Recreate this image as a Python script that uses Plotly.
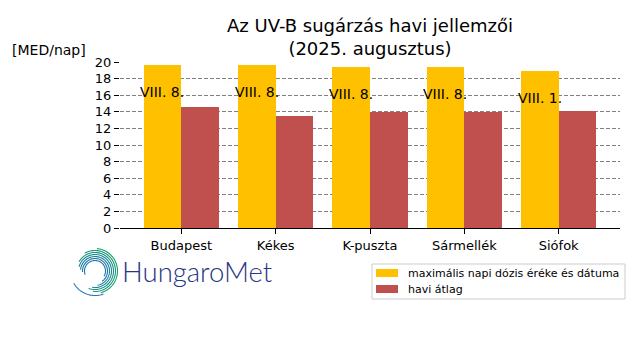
import numpy as np
import plotly.graph_objects as go

stations = ["Budapest", "Kékes", "K-puszta", "Sármellék", "Siófok"]
max_dose = [19.65, 19.65, 19.4, 19.4, 18.95]
max_date = ["VIII. 8.", "VIII. 8.", "VIII. 8.", "VIII. 8.", "VIII. 1."]
monthly_avg = [14.55, 13.55, 13.95, 13.95, 14.05]
y_ticks = [0, 2, 4, 6, 8, 10, 12, 14, 16, 18, 20]
legend_names = ["maximális napi dózis éréke és dátuma", "havi átlag"]

FONT = "DejaVu Sans"
YELLOW = "#FFC000"
RED = "#C0504D"

# page body has an 8px margin; figure is shrunk to compensate
OFF = 8
FW, FH = 640 - OFF, 360 - OFF
# plot area in window pixels
L, R, T, B = 120, 620, 62, 228
W, H = R - L, B - T


def px2paper(px, py):
    return (px - L) / W, (B - py) / H


x = np.arange(len(stations))

fig = go.Figure()
fig.add_trace(go.Bar(x=x - 0.2, y=max_dose, width=0.4, marker_color=YELLOW,
                     marker_line_width=0, name=legend_names[0]))
fig.add_trace(go.Bar(x=x + 0.2, y=monthly_avg, width=0.4, marker_color=RED,
                     marker_line_width=0, name=legend_names[1]))

for i, (v, d) in enumerate(zip(max_dose, max_date)):
    fig.add_annotation(x=i - 0.2, y=v - 3.3, text=d, showarrow=False,
                       font=dict(family=FONT, size=14, color="black"))

# logo: spiral-like arcs (thin concentric strokes, green to blue)
cx, cy = 95, 271
arc_specs = [
    (22.5, 85, -75, "#16a06a"),
    (20.5, 120, -95, "#18987a"),
    (18.5, 150, -110, "#199086"),
    (16.5, 165, -100, "#1a8892"),
    (14.5, 175, -80, "#1c809c"),
    (12.5, 185, -55, "#1e78a6"),
    (10.5, 200, -30, "#2070ae"),
]
for r, a0, a1, col in arc_specs:
    angs = np.radians(np.linspace(a0, a1, 48))
    pts = [px2paper(cx + r * np.cos(a), cy - r * np.sin(a)) for a in angs]
    path = "M " + " L ".join(f"{p[0]:.5f},{p[1]:.5f}" for p in pts)
    fig.add_shape(type="path", path=path, xref="paper", yref="paper",
                  line=dict(color=col, width=1.1))
angs = np.radians(np.linspace(-70, -150, 30))
pts = [px2paper(cx + 24.5 * np.cos(a), cy - 24.5 * np.sin(a)) for a in angs]
path = "M " + " L ".join(f"{p[0]:.5f},{p[1]:.5f}" for p in pts)
fig.add_shape(type="path", path=path, xref="paper", yref="paper",
              line=dict(color="#2277b8", width=1.1))

fig.add_annotation(xref="paper", yref="paper", x=px2paper(120, 0)[0],
                   y=px2paper(0, 271)[1], xanchor="left", yanchor="middle",
                   text="HungaroMet", showarrow=False,
                   font=dict(family="Lato", size=27.5, color="#283583", weight=300))

fig.add_annotation(xref="paper", yref="paper", x=px2paper(88, 0)[0],
                   y=px2paper(0, 50)[1], xanchor="right", yanchor="middle",
                   text="[MED/nap]", showarrow=False,
                   font=dict(family=FONT, size=14, color="black"))

# hand-drawn legend (matplotlib-like compact box)
x0, y0 = px2paper(372, 264)
x1, y1 = px2paper(625, 299)
fig.add_shape(type="rect", xref="paper", yref="paper", x0=x0, y0=y0, x1=x1, y1=y1,
              line=dict(color="#cccccc", width=1), fillcolor="white")
for k, (name, col) in enumerate(zip(legend_names, [YELLOW, RED])):
    yc = 273 + 16 * k
    sx0, sy0 = px2paper(376, yc - 4)
    sx1, sy1 = px2paper(398, yc + 4)
    fig.add_shape(type="rect", xref="paper", yref="paper", x0=sx0, y0=sy0,
                  x1=sx1, y1=sy1, line_width=0, fillcolor=col)
    tx, ty = px2paper(406, yc)
    fig.add_annotation(xref="paper", yref="paper", x=tx, y=ty, xanchor="left",
                       yanchor="middle", text=name, showarrow=False,
                       font=dict(family=FONT, size=11, color="black"))

fig.update_layout(
    width=FW, height=FH,
    margin=dict(l=L - OFF, r=FW - (R - OFF), t=T - OFF, b=FH - (B - OFF),
                autoexpand=False),
    paper_bgcolor="white", plot_bgcolor="white",
    font=dict(family=FONT, size=13, color="black"),
    title=dict(text="Az UV-B sugárzás havi jellemzői<br>(2025. augusztus)",
               x=((L + R) / 2 - OFF) / FW, xanchor="center",
               y=1 - (32 - OFF) / FH, yanchor="middle",
               font=dict(family=FONT, size=18, color="black")),
    barmode="overlay",
    bargap=0,
    showlegend=False,
    xaxis=dict(range=[-0.65, 4.65], tickmode="array", tickvals=list(x),
               ticktext=stations, showgrid=False, zeroline=False,
               showline=True, linecolor="black", linewidth=1,
               ticks="outside", ticklen=5, tickcolor="black", tickangle=0,
               tickfont=dict(family=FONT, size=13)),
    yaxis=dict(range=[0, 20], tickmode="array", tickvals=y_ticks,
               showgrid=True, gridcolor="#808080", griddash="4px,2px", gridwidth=1,
               zeroline=False, showline=False,
               ticks="outside", ticklen=5, tickcolor="black",
               tickfont=dict(family=FONT, size=13)),
)

fig.write_html("out.html")
